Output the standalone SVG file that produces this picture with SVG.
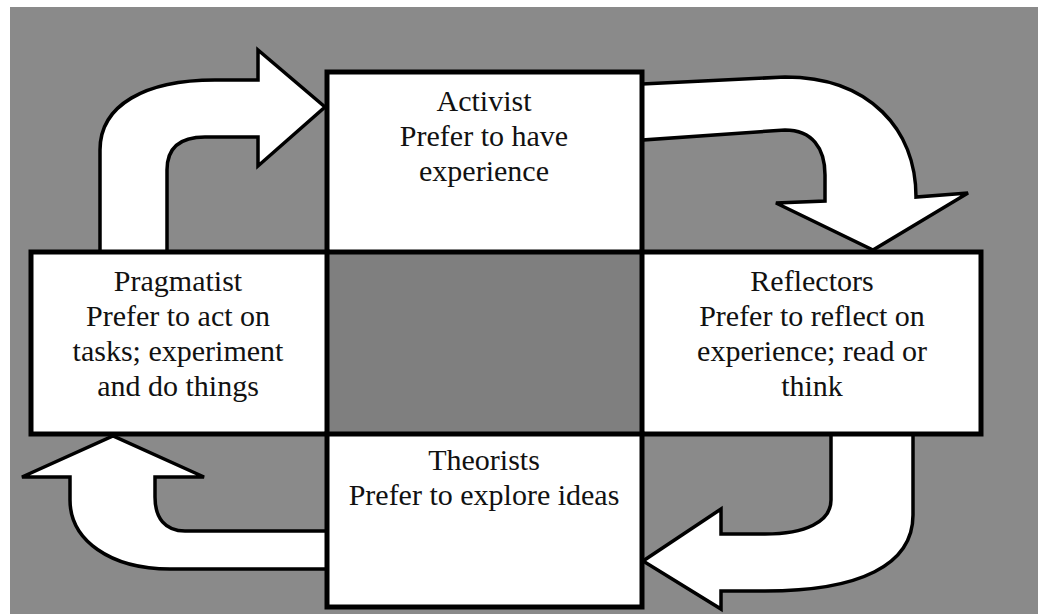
<svg xmlns="http://www.w3.org/2000/svg" width="1038" height="614" viewBox="0 0 1038 614">
<style>
.bg{fill:#8a8a8a}
.box{fill:#ffffff;stroke:#000000;stroke-width:5}
.arrow{fill:#ffffff;stroke:#000000;stroke-width:3.5;stroke-linejoin:miter}
.t{font-family:"Liberation Serif","Times New Roman",serif;font-size:30px;fill:#111111;text-anchor:middle}
</style>
<rect x="0" y="0" width="1038" height="614" fill="#ffffff"/>
<rect class="bg" x="10" y="7" width="1028" height="607"/>
<rect x="327" y="252" width="315" height="182" fill="#7f7f7f"/>
<g id="connectors">
<path class="arrow" d="M100,252 L100,150 C100,105 145,80 215,80 L258,80 L258,50 L325,107 L258,166 L258,137 L205,137 C180,137 167,148 167,170 L167,252 Z"/>
<path class="arrow" d="M642,84 L785,77 C870,77 916,130 916,197 L968,193 L873,250 L776,203 L825,201 L825,175 C825,148 812,130 785,130 L642,140 Z"/>
<path class="arrow" d="M831,434 L913,434 L913,515 C913,565 860,591 765,591 L721,591 L721,609 L643,561 L721,509 L721,534 L765,534 C805,534 831,522 831,500 Z"/>
<path class="arrow" d="M327,531 L185,531 C165,531 155,518 155,497 L155,477 L204,477 L113,436 L22,477 L70,477 L70,500 C70,540 110,569 170,569 L327,569 Z"/>
</g>
<g id="activist">
<rect class="box" x="327" y="72" width="315" height="180"/>
<text class="t" x="484" y="111">Activist</text>
<text class="t" x="484" y="146">Prefer to have</text>
<text class="t" x="484" y="181">experience</text>
</g>
<g id="pragmatist">
<rect class="box" x="31" y="252" width="296" height="182"/>
<text class="t" x="178" y="291">Pragmatist</text>
<text class="t" x="178" y="326">Prefer to act on</text>
<text class="t" x="178" y="361">tasks; experiment</text>
<text class="t" x="178" y="396">and do things</text>
</g>
<g id="reflectors">
<rect class="box" x="642" y="252" width="339" height="182"/>
<text class="t" x="812" y="291">Reflectors</text>
<text class="t" x="812" y="326">Prefer to reflect on</text>
<text class="t" x="812" y="361">experience; read or</text>
<text class="t" x="812" y="396">think</text>
</g>
<g id="theorists">
<rect class="box" x="327" y="434" width="315" height="173"/>
<text class="t" x="484" y="470">Theorists</text>
<text class="t" x="484" y="505">Prefer to explore ideas</text>
</g>
</svg>
